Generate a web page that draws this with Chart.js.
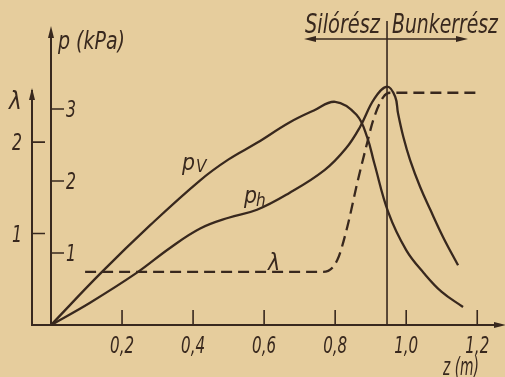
<!DOCTYPE html>
<html>
<head>
<meta charset="utf-8">
<script src="https://cdn.jsdelivr.net/npm/chart.js@4.4.0/dist/chart.umd.min.js"></script>
<style>
  html, body { margin: 0; padding: 0; background: #e6cd9d; }
  canvas { display: block; }
</style>
</head>
<body>
<canvas id="siloChart" width="505" height="377"></canvas>
<script>
// values: z in m, p in kPa, lambda dimensionless
const pvZ = [0, 0.14, 0.28, 0.42, 0.50, 0.58, 0.67, 0.74, 0.80, 0.86, 0.89, 0.91, 0.95, 1.00, 1.05, 1.10, 1.16];
const pvP = [0, 0.72, 1.39, 2.01, 2.30, 2.53, 2.81, 2.98, 3.10, 2.92, 2.61, 2.25, 1.56, 1.04, 0.72, 0.46, 0.25];

const phZ = [0, 0.11, 0.24, 0.335, 0.42, 0.50, 0.58, 0.67, 0.77, 0.83, 0.87, 0.91, 0.946, 0.969, 0.977, 0.992, 1.011, 1.039, 1.068, 1.104, 1.146];
const phP = [0, 0.31, 0.72, 1.07, 1.34, 1.49, 1.60, 1.83, 2.15, 2.45, 2.75, 3.14, 3.31, 3.17, 2.94, 2.61, 2.29, 1.92, 1.60, 1.22, 0.83];

const lamZ = [0.096, 0.766, 0.806, 0.834, 0.862, 0.89, 0.907, 0.935, 0.955, 1.203];
const lamV = [0.58, 0.58, 0.71, 1.07, 1.55, 1.99, 2.24, 2.49, 2.54, 2.54];

const xTickValues = [0.2, 0.4, 0.6, 0.8, 1.0, 1.2];
const xTickLabels = ['0,2', '0,4', '0,6', '0,8', '1,0', '1,2'];
const pTickValues = [1, 2, 3];
const lamTickValues = [1, 2];
const boundaryZ = 0.946; // silo / bunker transition

const ink = '#38281e';
const font = (size) => 'italic ' + size + 'px "Liberation Sans Narrow", "DejaVu Sans Condensed", "Liberation Sans", sans-serif';

const toPoints = (xs, ys) => xs.map((x, i) => ({ x: x, y: ys[i] }));

function arrowHead(ctx, x, y, dir) {
  ctx.beginPath();
  ctx.moveTo(x, y);
  if (dir === 'up') { ctx.lineTo(x - 3, y + 12); ctx.lineTo(x + 3, y + 12); }
  if (dir === 'right') { ctx.lineTo(x - 12, y - 3); ctx.lineTo(x - 12, y + 3); }
  if (dir === 'left') { ctx.lineTo(x + 12, y - 3); ctx.lineTo(x + 12, y + 3); }
  ctx.closePath();
  ctx.fill();
}

const paperAxes = {
  id: 'paperAxes',
  beforeDraw(chart) {
    const ctx = chart.ctx;
    ctx.save();
    ctx.fillStyle = '#e6cd9d';
    ctx.fillRect(0, 0, chart.width, chart.height);
    ctx.restore();
  },
  afterDatasetsDraw(chart) {
    const { ctx, scales } = chart;
    const x = scales.x, p = scales.p, lam = scales.lam;
    const x0 = x.getPixelForValue(0);
    const y0 = p.getPixelForValue(0);
    const lamX = x0 - 19;

    ctx.save();
    ctx.strokeStyle = ink;
    ctx.fillStyle = ink;
    ctx.lineWidth = 2;

    // axes
    ctx.beginPath();
    ctx.moveTo(lamX, 90); ctx.lineTo(lamX, y0); ctx.lineTo(500, y0);
    ctx.moveTo(x0, y0); ctx.lineTo(x0, 30);
    ctx.stroke();
    arrowHead(ctx, lamX, 88, 'up');
    arrowHead(ctx, x0, 26, 'up');
    arrowHead(ctx, 506, y0, 'right');

    // boundary line
    const bx = x.getPixelForValue(boundaryZ);
    ctx.lineWidth = 1.6;
    ctx.beginPath();
    ctx.moveTo(bx, 21); ctx.lineTo(bx, y0);
    ctx.moveTo(308, 39); ctx.lineTo(464, 39);
    ctx.stroke();
    arrowHead(ctx, 304, 39, 'left');
    arrowHead(ctx, 468, 39, 'right');

    // ticks
    ctx.lineWidth = 1.6;
    ctx.beginPath();
    xTickValues.forEach(v => {
      const px = x.getPixelForValue(v);
      ctx.moveTo(px, y0); ctx.lineTo(px, y0 - 15);
    });
    pTickValues.forEach(v => {
      const py = p.getPixelForValue(v);
      ctx.moveTo(x0, py); ctx.lineTo(x0 + 13, py);
    });
    lamTickValues.forEach(v => {
      const py = lam.getPixelForValue(v);
      ctx.moveTo(lamX, py); ctx.lineTo(lamX + 13, py);
    });
    ctx.stroke();

    // tick labels
    ctx.font = font(23);
    ctx.textAlign = 'center';
    ctx.textBaseline = 'alphabetic';
    xTickValues.forEach((v, i) => {
      ctx.fillText(xTickLabels[i], x.getPixelForValue(v), 353, 24);
    });
    ctx.textAlign = 'left';
    pTickValues.forEach(v => {
      ctx.fillText(String(v), x0 + 15, p.getPixelForValue(v) + 8, 10);
    });
    ctx.textAlign = 'center';
    lamTickValues.forEach(v => {
      ctx.fillText(String(v), 17, lam.getPixelForValue(v) + 8, 10);
    });

    // axis titles
    ctx.textAlign = 'left';
    ctx.font = font(24);
    ctx.fillText('p (kPa)', 58, 49, 67);
    ctx.fillText('\u03bb', 9, 109, 16);
    ctx.fillText('z (m)', 443, 375, 36);

    ctx.font = font(27);
    ctx.fillText('Sil\u00f3r\u00e9sz', 305, 33, 75);
    ctx.fillText('Bunkerr\u00e9sz', 392, 33, 106);

    // curve labels
    ctx.font = font(23);
    ctx.fillText('p', 182, 170, 13);
    ctx.fillText('p', 244, 203, 13);
    ctx.fillText('\u03bb', 268, 270, 14);
    ctx.font = font(17);
    ctx.fillText('V', 196, 172, 12);
    ctx.fillText('h', 256, 206, 11);
    ctx.restore();
  }
};

new Chart(document.getElementById('siloChart').getContext('2d'), {
  type: 'line',
  data: {
    datasets: [
      { label: 'pV', data: toPoints(pvZ, pvP), yAxisID: 'p', tension: 0.4 },
      { label: 'ph', data: toPoints(phZ, phP), yAxisID: 'p', tension: 0.4 },
      { label: 'lambda', data: toPoints(lamZ, lamV), yAxisID: 'lam', borderDash: [11, 6], cubicInterpolationMode: 'monotone' }
    ]
  },
  options: {
    responsive: false,
    animation: false,
    layout: { padding: { left: 51, right: 10, top: 37, bottom: 52 } },
    elements: {
      line: { borderColor: ink, borderWidth: 2.3, fill: false },
      point: { radius: 0, hoverRadius: 0 }
    },
    datasets: { line: { clip: false } },
    scales: {
      x: { type: 'linear', min: 0, max: 1.25, display: false },
      p: { type: 'linear', position: 'left', min: 0, max: 4, display: false },
      lam: { type: 'linear', position: 'left', min: 0, max: 3.15, display: false }
    },
    plugins: {
      legend: { display: false },
      tooltip: { enabled: false }
    }
  },
  plugins: [paperAxes]
});
</script>
</body>
</html>
